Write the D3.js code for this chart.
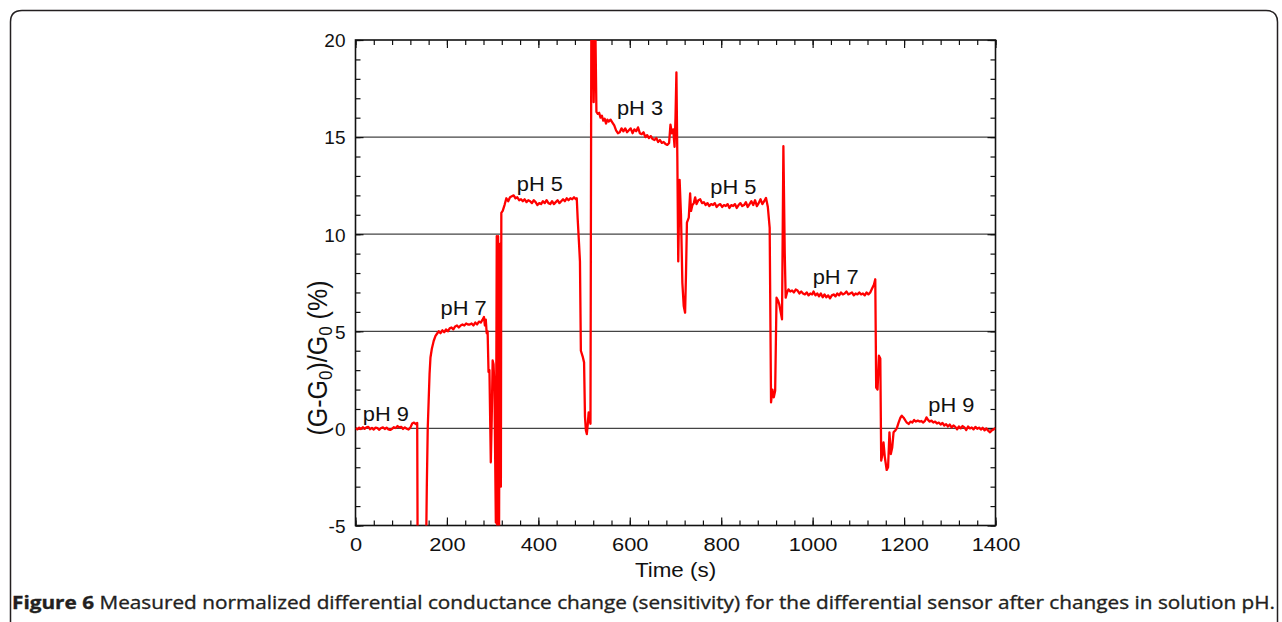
<!DOCTYPE html>
<html><head><meta charset="utf-8">
<script src="https://cdn.jsdelivr.net/npm/d3@7"></script>
<style>
html,body{margin:0;padding:0;background:#fff;}
svg{display:block;}
</style></head>
<body>
<svg id="chart" width="1282" height="622"></svg>
<script>
// ---- data ----
const timeS = [0,4,8,12,16,20,24,28,32,36,40,44,48,52,56,60,64,68,72,76,80,84,88,92,96,100,104,108,112,116,120,124,128,132,135,
136,154,156,158,160,162,164,167,171,175,179,182,186,190,194,198,202,206,210,214,218,222,226,230,234,238,242,246,250,254,258,262,266,270,274,278,281,283,285,287,289,291,293,296,298,300,302,304,307,309,310,312,314,316,318,319,
322,326,330,334,338,342,346,350,354,358,362,366,370,374,378,382,386,390,394,398,402,406,410,414,418,422,426,430,434,438,442,446,450,454,458,462,466,470,474,478,482,484,486,489,491,493,497,500,502,504,506,508,510,512,514,
516,519,521,524,527,530,533,536,539,542,545,548,551,554,558,562,566,570,574,578,582,586,590,594,598,602,606,610,614,618,622,626,630,634,638,642,646,650,654,658,662,666,670,674,678,682,686,689,692,695,698,700,702,704,706,709,712,715,718,721,723,
725,729,732,734,737,740,743,746,750,754,758,762,766,770,774,778,782,786,790,794,798,802,806,810,814,818,822,826,830,834,838,842,846,850,854,858,862,866,870,874,878,882,886,890,894,898,902,906,909,912,915,918,921,924,927,930,933,936,939,941,
944,947,951,955,959,963,967,971,975,979,983,987,991,995,999,1002,1006,1010,1014,1018,1022,1026,1030,1034,1038,1042,1046,1050,1054,1058,1062,1066,1070,1074,1078,1082,1086,1090,1094,1098,1102,1106,1110,1114,1118,1122,1126,1130,1134,1137,1139,1142,1145,1148,1150,1153,1155,1158,1162,1165,1168,1171,1174,1177,1181,1184,1188,1192,1195,1199,1203,1206,1210,1214,1218,1222,1226,1230,1234,1238,1242,1246,1249,1252,1256,1260,1264,1268,1272,1276,1280,1284,1288,1292,1296,1300,1304,1308,1312,1316,1320,1324,1328,1332,1336,1340,1344,1348,1352,1356,1360,1364,1368,1372,1376,1380,1384,1388,1392,1396,1400];
const deltaG = [0.02,-0.05,0.04,-0.03,0.06,-0.02,0.05,0.08,-0.04,0.03,-0.06,0.04,0.01,-0.07,0.02,0.05,-0.03,0.04,-0.05,-0.08,-0.02,0.06,0.02,0.12,0.05,0.08,-0.03,0.05,-0.02,-0.06,0.04,0.25,0.3,0.22,0.28,
-7,-7,-3,0.0,1.4,2.8,3.65,4.1,4.5,4.76,4.9,5.0,4.9,5.05,4.95,5.1,5.0,5.15,5.2,5.1,5.25,5.3,5.2,5.3,5.35,5.3,5.4,5.35,5.35,5.4,5.3,5.45,5.35,5.5,5.45,5.6,5.74,5.3,5.6,4.9,5.0,2.9,3.0,-1.75,0.5,3.5,3.3,2.0,-4.85,9.9,-5.5,9.9,-5.5,9.5,-3,11.1,
11.2,11.5,11.85,11.7,11.9,11.95,12.0,11.85,11.9,11.75,11.8,11.7,11.8,11.65,11.75,11.7,11.6,11.75,11.65,11.5,11.6,11.55,11.7,11.6,11.75,11.6,11.55,11.7,11.55,11.65,11.75,11.6,11.7,11.8,11.7,11.85,11.75,11.85,11.8,11.9,11.8,11.85,10.8,9.5,8.6,4.0,3.7,3.4,0.6,-0.1,-0.29,0.2,0.82,0.5,0.24,
22,21,16.8,22,16.3,16.2,16.25,16.0,16.1,15.85,15.95,15.7,15.9,15.8,15.9,15.75,15.6,15.35,15.2,15.25,15.45,15.3,15.45,15.25,15.35,15.45,15.2,15.4,15.3,15.5,15.2,15.15,15.25,15.0,15.1,14.95,15.05,14.9,14.85,14.95,14.75,14.85,14.7,14.75,14.65,14.6,14.7,15.64,15.2,15.4,14.5,16,18.33,14,8.6,12.8,11,7.5,6.3,5.96,8,
10.6,10.85,12.1,11.2,11.5,11.6,11.9,11.55,11.75,11.8,11.6,11.65,11.5,11.6,11.45,11.55,11.5,11.6,11.4,11.5,11.55,11.4,11.5,11.45,11.55,11.35,11.5,11.45,11.55,11.35,11.5,11.6,11.45,11.5,11.65,11.4,11.55,11.7,11.5,11.75,11.45,11.6,11.8,11.55,11.7,11.87,11.4,10.33,1.34,2.0,1.6,1.94,6.73,6.6,6.39,6.0,5.62,14.53,9,6.73,
7.0,7.16,7.05,7.1,7.0,7.15,7.1,6.95,7.05,6.95,6.9,7.0,6.85,6.95,6.9,7.05,6.85,6.95,6.8,6.95,6.75,6.9,6.75,6.85,6.7,6.85,6.9,6.8,6.95,6.85,7.0,6.9,6.95,7.05,6.9,6.95,7.0,6.85,6.95,6.9,7.0,6.9,6.95,6.85,7.0,6.9,7.0,7.2,7.4,7.68,2.1,2.0,3.74,3.6,-1.66,-1.3,-0.72,-1.5,-2.14,-2.0,-0.2,-1.32,-1.0,-0.2,-0.1,0.0,0.3,0.55,0.65,0.55,0.4,0.3,0.23,0.35,0.3,0.43,0.35,0.4,0.35,0.38,0.3,0.4,0.57,0.45,0.35,0.4,0.3,0.35,0.25,0.3,0.2,0.28,0.15,0.22,0.1,0.2,0.05,0.15,0.08,-0.05,0.1,0.0,0.12,0.05,-0.08,0.1,0.0,0.05,-0.05,0.08,-0.02,0.04,-0.06,0.03,-0.1,0.0,-0.12,-0.2,-0.1,-0.05,0.02];

const xTicks = [0,200,400,600,800,1000,1200,1400];
const yTicks = [-5,0,5,10,15,20];
const gridValues = [0,5,10,15];
const labelText = ["pH 9","pH 7","pH 5","pH 3","pH 5","pH 7","pH 9"];
const labelTime = [16,186,353,572,776,1000,1253];
const labelValue = [0.4,5.84,12.2,16.15,12.08,7.42,0.82];
const captionBold = "Figure 6";
const captionRest = " Measured normalized differential conductance change (sensitivity) for the differential sensor after changes in solution pH.";

// ---- drawing ----
const svg = d3.select("#chart");
const L = 355.5, R = 995.5, T = 40, B = 525.5;
const x = d3.scaleLinear().domain([0,1400]).range([L,R]);
const y = d3.scaleLinear().domain([-5,20]).range([B,T]);
const font = "Liberation Sans, Arial, Helvetica, sans-serif";

// frame
svg.append("path")
  .attr("d", "M10.5,640 L10.5,22 Q10.5,10.5 22,10.5 L1266,10.5 Q1277.5,10.5 1277.5,22 L1277.5,640")
  .attr("fill","none").attr("stroke","#231f20").attr("stroke-width",1.5);

svg.append("defs").append("clipPath").attr("id","plotclip")
  .append("rect").attr("x",L).attr("y",T).attr("width",R-L).attr("height",B-T);

// grid
svg.append("g").selectAll("line").data(gridValues).join("line")
  .attr("x1",L).attr("x2",R).attr("y1",d=>y(d)).attr("y2",d=>y(d))
  .attr("stroke","#444").attr("stroke-width",1.3);

// ticks
const xMinor = d3.range(0,1401,40);
const yMinor = d3.range(-5,20.01,1);
const axisColor = "#111";
function addAxis(gen, tx, ty){
  const g = svg.append("g").attr("transform",`translate(${tx},${ty})`).call(gen);
  g.select(".domain").remove();
  g.selectAll("line").attr("stroke",axisColor).attr("stroke-width",1.2);
  return g;
}
addAxis(d3.axisBottom(x).tickValues(xMinor).tickSize(-5).tickFormat(""),0,B);
addAxis(d3.axisTop(x).tickValues(xMinor).tickSize(-5).tickFormat(""),0,T);
addAxis(d3.axisLeft(y).tickValues(yMinor).tickSize(-5).tickFormat(""),L,0);
addAxis(d3.axisRight(y).tickValues(yMinor).tickSize(-5).tickFormat(""),R,0);
const gx = addAxis(d3.axisBottom(x).tickValues(xTicks).tickSize(-8).tickPadding(12).tickFormat(d3.format("d")),0,B);
addAxis(d3.axisTop(x).tickValues(xTicks).tickSize(-8).tickFormat(""),0,T);
const gy = addAxis(d3.axisLeft(y).tickValues(yTicks).tickSize(-8).tickPadding(10).tickFormat(d=>d<0?"-"+Math.abs(d):d),L,0);
addAxis(d3.axisRight(y).tickValues(yTicks).tickSize(-8).tickFormat(""),R,0);
[gx,gy].forEach(g=>g.selectAll("text").attr("fill","#111").style("font-family",font).style("font-size","19px"));
gx.selectAll("text").attr("transform","scale(1.15,1)");
gy.selectAll("text").attr("dy","0.36em");

// plot border
svg.append("rect").attr("x",L).attr("y",T).attr("width",R-L).attr("height",B-T)
  .attr("fill","none").attr("stroke","#111").attr("stroke-width",1.6);

// data line
const pts = timeS.map((t,i)=>[t,deltaG[i]]);
svg.append("path").datum(pts)
  .attr("clip-path","url(#plotclip)")
  .attr("fill","none").attr("stroke","#ff0000").attr("stroke-width",2.3)
  .attr("stroke-linejoin","round")
  .attr("d", d3.line().x(d=>x(d[0])).y(d=>y(d[1])));

// pH labels
svg.append("g").selectAll("text").data(labelText).join("text")
  .attr("transform",(d,i)=>`translate(${x(labelTime[i])},${y(labelValue[i])}) scale(1.12,1)`)
  .attr("fill","#111").style("font-family",font).style("font-size","19.5px")
  .text(d=>d);

// axis titles
svg.append("text").attr("transform",`translate(${(L+R)/2},577) scale(1.12,1)`)
  .attr("text-anchor","middle").attr("fill","#111")
  .style("font-family",font).style("font-size","20px").text("Time (s)");

const yl = svg.append("text").attr("transform",`translate(327,358) rotate(-90) scale(1,1.12)`)
  .attr("text-anchor","middle").attr("fill","#111")
  .style("font-family",font).style("font-size","25px");
yl.append("tspan").text("(G-G");
yl.append("tspan").attr("baseline-shift","-25%").style("font-size","17px").text("0");
yl.append("tspan").text(")/G");
yl.append("tspan").attr("baseline-shift","-25%").style("font-size","17px").text("0");
yl.append("tspan").text(" (%)");

// caption
const cap = svg.append("text").attr("x",12).attr("y",609)
  .attr("fill","#231f20").attr("stroke","#231f20").attr("stroke-width",0.35)
  .style("font-family","'Open Sans', 'Liberation Sans', sans-serif").style("font-size","18.5px")
  .attr("textLength",1263).attr("lengthAdjust","spacingAndGlyphs");
cap.append("tspan").style("font-weight","bold").text(captionBold);
cap.append("tspan").text(captionRest);
</script>
</body></html>
